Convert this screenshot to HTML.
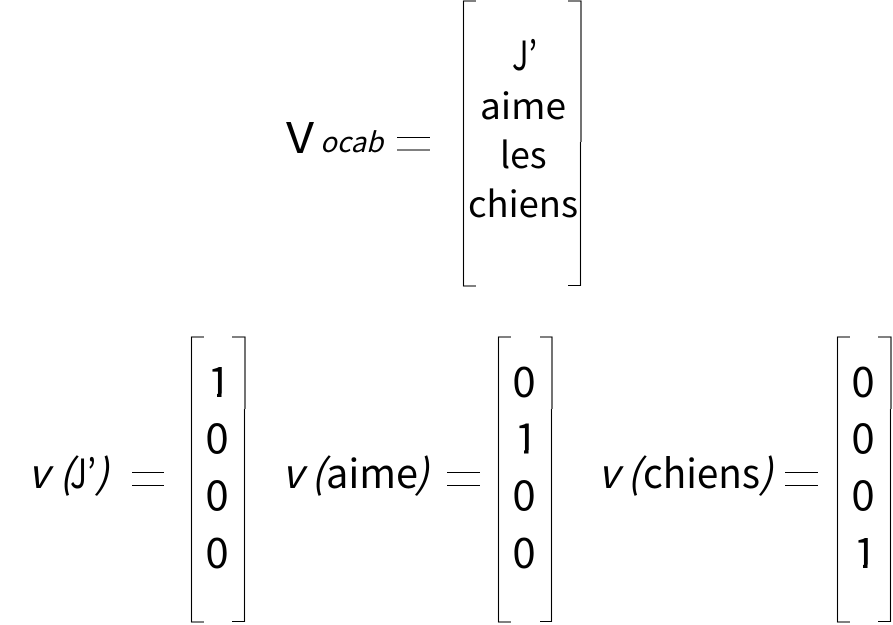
<!DOCTYPE html>
<html>
<head>
<meta charset="utf-8">
<style>
html,body{margin:0;padding:0;background:#fff;width:893px;height:625px;overflow:hidden}
svg{display:block}
text{font-family:"Noto Sans CJK JP","Liberation Sans",sans-serif;fill:#000;font-weight:400}
.n{font-size:42px;text-anchor:middle}
.w{font-size:36px}
.b{font-size:40px}
.i{font-style:italic}
path{fill:none;stroke:#000;stroke-width:1.1}
</style>
</head>
<body>
<svg width="893" height="625" viewBox="0 0 893 625" xmlns="http://www.w3.org/2000/svg">
<!-- Top -->
<text x="286" y="153" font-size="42" textLength="28" lengthAdjust="spacingAndGlyphs">V</text>
<text x="320" y="152" font-size="27.5" class="i" textLength="63" lengthAdjust="spacingAndGlyphs">ocab</text>
<path d="M397 137.5H430M397 150H430"/>
<path d="M476 1H463.5V286H476M568 1H581V142M580.5 142V285.5H568"/>
<text x="512" y="70" font-size="40" textLength="25" lengthAdjust="spacingAndGlyphs">J’</text>
<text x="480" y="119" class="w" textLength="86" lengthAdjust="spacingAndGlyphs">aime</text>
<text x="500" y="168" class="w" textLength="46.5" lengthAdjust="spacingAndGlyphs">les</text>
<text x="468" y="217" class="w" textLength="110" lengthAdjust="spacingAndGlyphs">chiens</text>
<!-- v(J') -->
<text x="28" y="488" class="b i">v</text>
<text x="59" y="488" class="b i">(</text>
<text x="70" y="488" class="b" textLength="26" lengthAdjust="spacingAndGlyphs">J’</text>
<text x="95" y="488" class="b i">)</text>
<path d="M132 472.5H164M132 485.5H164"/>
<path d="M204 337H191.5V622H204M232 337H245V409M244.5 409V621.5H232"/>
<text x="219" y="397" class="n">1</text>
<rect x="204" y="393.5" width="13" height="5" fill="#fff"/>
<rect x="221.5" y="393.5" width="10" height="5" fill="#fff"/>
<text x="217" y="453.5" class="n">0</text>
<text x="217" y="510.5" class="n">0</text>
<text x="217" y="568" class="n">0</text>
<!-- v(aime) -->
<text x="282" y="488" class="b i">v</text>
<text x="311" y="488" class="b i">(</text>
<text x="326" y="488" class="b" textLength="92" lengthAdjust="spacingAndGlyphs">aime</text>
<text x="415" y="488" class="b i">)</text>
<path d="M447 472.5H480M447 485.5H480"/>
<path d="M511 337H498.5V622H511M540 337H552V409M551.5 409V621.5H540"/>
<text x="524" y="397" class="n">0</text>
<text x="526" y="453.5" class="n">1</text>
<rect x="511" y="450" width="13" height="5" fill="#fff"/>
<rect x="528.5" y="450" width="10" height="5" fill="#fff"/>
<text x="524" y="510.5" class="n">0</text>
<text x="524" y="568" class="n">0</text>
<!-- v(chiens) -->
<text x="598" y="488" class="b i">v</text>
<text x="627" y="488" class="b i">(</text>
<text x="643" y="488" class="b" textLength="117" lengthAdjust="spacingAndGlyphs">chiens</text>
<text x="759" y="488" class="b i">)</text>
<path d="M785 472.5H818M785 485.5H818"/>
<path d="M850 337H837.5V622H850M878 337H891V409M890.5 409V621.5H878"/>
<text x="863" y="397" class="n">0</text>
<text x="863" y="453.5" class="n">0</text>
<text x="863" y="510.5" class="n">0</text>
<text x="865" y="568" class="n">1</text>
<rect x="850" y="564.5" width="13" height="5" fill="#fff"/>
<rect x="867.5" y="564.5" width="10" height="5" fill="#fff"/>
</svg>
</body>
</html>
